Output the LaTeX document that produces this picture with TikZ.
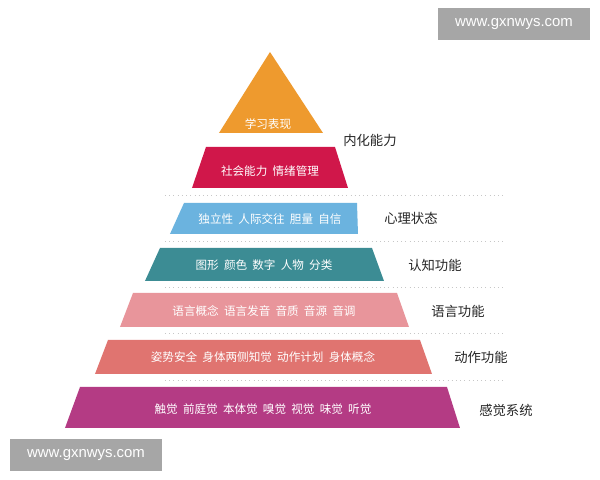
\documentclass[tikz,border=0pt]{standalone}
\usepackage{fontspec}
\newfontfamily\cjk{Noto Sans CJK SC}
\newfontfamily\marksans{Liberation Sans}
\usetikzlibrary{positioning}
\definecolor{layerA}{HTML}{EE9A2E}
\definecolor{layerB}{HTML}{D0174A}
\definecolor{layerC}{HTML}{6BB3DF}
\definecolor{layerD}{HTML}{3C8C94}
\definecolor{layerE}{HTML}{E8959B}
\definecolor{layerF}{HTML}{E07470}
\definecolor{layerG}{HTML}{B43B84}
\definecolor{markgray}{HTML}{A6A6A6}
\tikzset{
  font=\cjk,
  in text/.style={text=white,font=\cjk\fontsize{6.6}{7}\selectfont},
  side text/.style={text=black!85,font=\cjk\fontsize{7.6}{9}\selectfont},
  sep line/.style={draw=black!22,dotted,line width=0.4pt},
  mark box/.style={fill=markgray,text=white,font=\marksans\fontsize{8.5}{10}\selectfont,
    minimum width=3.04cm,minimum height=0.64cm,inner sep=0pt}
}
\begin{document}
\begin{tikzpicture}[x=0.02cm,y=-0.02cm]
\useasboundingbox[fill=white] (0,0) rectangle (600,480);
% separators
\foreach \y in {195,241,287,333,380}
  \draw[sep line] (165,\y) -- (505,\y);
% layers, top to bottom
\fill[layerA] (270,52) -- (323,133) -- (219,133) -- cycle;
\fill[layerB] (206,147) -- (335,147) -- (348,188) -- (192,188) -- cycle;
\fill[layerC] (184,203) -- (357,203) -- (358,234) -- (170,234) -- cycle;
\fill[layerD] (160,248) -- (372,248) -- (384,281) -- (145,281) -- cycle;
\fill[layerE] (133,293) -- (397,293) -- (409,327) -- (120,327) -- cycle;
\fill[layerF] (108,340) -- (420,340) -- (432,374) -- (95,374) -- cycle;
\fill[layerG] (80,387) -- (447,387) -- (460,428) -- (65,428) -- cycle;
% texts inside
\node[in text] (t1) at (268,124) {学习表现};
\node[in text] (t2) at (270,171) {社会能力\ \ 情绪管理};
\node[in text] (t3) at (270,219) {独立性\ \ 人际交往\ \ 胆量\ \ 自信};
\node[in text] (t4) at (264,265) {图形\ \ 颜色\ \ 数字\ \ 人物\ \ 分类};
\node[in text] (t5) at (264,311) {语言概念\ \ 语言发音\ \ 音质\ \ 音源\ \ 音调};
\node[in text] (t6) at (263,357) {姿势安全\ \ 身体两侧知觉\ \ 动作计划\ \ 身体概念};
\node[in text] (t7) at (263,409) {触觉\ \ 前庭觉\ \ 本体觉\ \ 嗅觉\ \ 视觉\ \ 味觉\ \ 听觉};
% labels on the right
\node[side text] (s1) at (370,140) {内化能力};
\node[side text] (s2) at (411,218) {心理状态};
\node[side text] (s3) at (435,265) {认知功能};
\node[side text] (s4) at (458,311) {语言功能};
\node[side text] (s5) at (481,357) {动作功能};
\node[side text] (s6) at (506,410) {感觉系统};
% watermarks
\node[mark box] (w1) at (514,24) {www.gxnwys.com};
\node[mark box] (w2) at (86,455) {www.gxnwys.com};
\end{tikzpicture}
\end{document}
